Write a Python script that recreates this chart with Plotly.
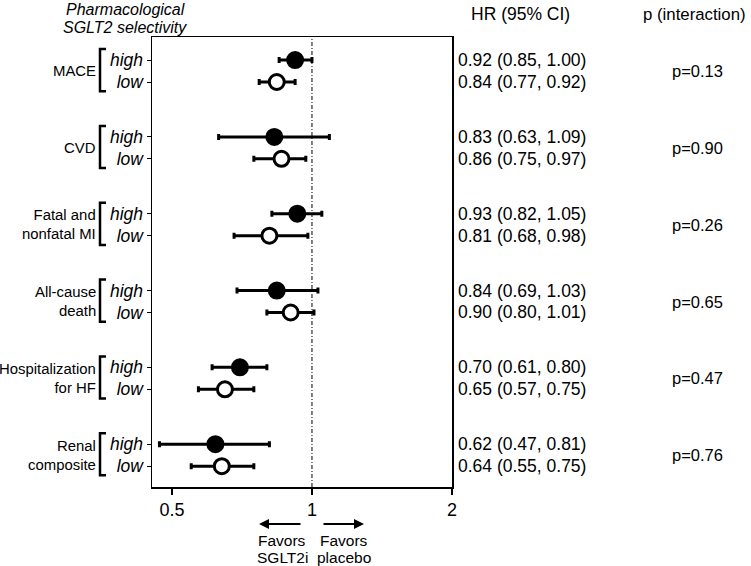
import plotly.graph_objects as go
import math

outcomes = ["MACE", "CVD", "Fatal and<br>nonfatal MI", "All-cause<br>death", "Hospitalization<br>for HF", "Renal<br>composite"]
hr_high = [0.92, 0.83, 0.93, 0.84, 0.70, 0.62]
lo_high = [0.85, 0.63, 0.82, 0.69, 0.61, 0.47]
hi_high = [1.00, 1.09, 1.05, 1.03, 0.80, 0.81]
hr_low = [0.84, 0.86, 0.81, 0.90, 0.65, 0.64]
lo_low = [0.77, 0.75, 0.68, 0.80, 0.57, 0.55]
hi_low = [0.92, 0.97, 0.98, 1.01, 0.75, 0.75]
p_interaction = ["p=0.13", "p=0.90", "p=0.26", "p=0.65", "p=0.47", "p=0.76"]
x_ticks = [0.5, 1, 2]

FONT = "Liberation Sans, Arial, sans-serif"
FS = 15.5
FL = 14.9
FR = 17.5
FP = 16.5

PL, PT, PW, PH = 152, 37, 300, 450  # plot area in page pixel coords

n = len(outcomes)
y_high = [3.5 * i for i in range(n)]
y_low = [3.5 * i + 1 for i in range(n)]

fig = go.Figure()

fig.add_shape(type="line", x0=1, x1=1, y0=0, y1=1, xref="x", yref="paper",
              line=dict(color="black", width=1, dash="4px,2px,1px,2px"), layer="below")

fig.add_trace(go.Scatter(
    x=hr_high, y=y_high, mode="markers",
    marker=dict(symbol="circle", size=16, color="black", line=dict(color="black", width=2)),
    error_x=dict(type="data", symmetric=False,
                 array=[h - m for h, m in zip(hi_high, hr_high)],
                 arrayminus=[m - l for m, l in zip(hr_high, lo_high)],
                 color="black", thickness=3, width=3),
    showlegend=False, hoverinfo="skip"))
fig.add_trace(go.Scatter(
    x=hr_low, y=y_low, mode="markers",
    marker=dict(symbol="circle", size=15, color="white", line=dict(color="black", width=3)),
    error_x=dict(type="data", symmetric=False,
                 array=[h - m for h, m in zip(hi_low, hr_low)],
                 arrayminus=[m - l for m, l in zip(hr_low, lo_low)],
                 color="black", thickness=3, width=3),
    showlegend=False, hoverinfo="skip"))


def py(px):
    return (PT + PH - px) / PH


def pxx(px):
    return (px - PL) / PW


annotations = []
ticktext = []
tickvals = []
for i in range(n):
    tickvals += [y_high[i], y_low[i]]
    ticktext += ["<i>high</i>", "<i>low</i>"]
    mid = (y_high[i] + y_low[i]) / 2
    annotations.append(dict(x=pxx(97.5), y=mid, xref="paper", yref="y", text=outcomes[i],
                            showarrow=False, xanchor="right", yanchor="middle", align="right",
                            font=dict(size=FL, family=FONT, color="black")))
    xb0 = pxx(100)
    xb1 = pxx(106)
    fig.add_shape(type="path", xref="paper", yref="y",
                  path=f"M {xb1},{y_high[i]-0.5} L {xb0},{y_high[i]-0.5} L {xb0},{y_low[i]+0.42} L {xb1},{y_low[i]+0.42}",
                  line=dict(color="black", width=2.5))
    txt_h = f"{hr_high[i]:.2f} ({lo_high[i]:.2f}, {hi_high[i]:.2f})"
    txt_l = f"{hr_low[i]:.2f} ({lo_low[i]:.2f}, {hi_low[i]:.2f})"
    annotations.append(dict(x=pxx(456), y=y_high[i], xref="paper", yref="y", text=txt_h,
                            showarrow=False, xanchor="left", yanchor="middle",
                            font=dict(size=FR, family=FONT, color="black")))
    annotations.append(dict(x=pxx(456), y=y_low[i], xref="paper", yref="y", text=txt_l,
                            showarrow=False, xanchor="left", yanchor="middle",
                            font=dict(size=FR, family=FONT, color="black")))
    annotations.append(dict(x=pxx(697), y=mid, xref="paper", yref="y", text=p_interaction[i],
                            showarrow=False, xanchor="center", yanchor="middle",
                            font=dict(size=FP, family=FONT, color="black")))

annotations += [
    dict(x=pxx(125), y=py(10), xref="paper", yref="paper", text="<i>Pharmacological</i>",
         showarrow=False, xanchor="center", yanchor="middle", font=dict(size=16, family=FONT, color="black")),
    dict(x=pxx(125), y=py(27), xref="paper", yref="paper", text="<i>SGLT2 selectivity</i>",
         showarrow=False, xanchor="center", yanchor="middle", font=dict(size=16, family=FONT, color="black")),
    dict(x=pxx(520), y=py(14), xref="paper", yref="paper", text="HR (95% CI)",
         showarrow=False, xanchor="center", yanchor="middle", font=dict(size=FR, family=FONT, color="black")),
    dict(x=pxx(694), y=py(14), xref="paper", yref="paper", text="p (interaction)",
         showarrow=False, xanchor="center", yanchor="middle", font=dict(size=16.8, family=FONT, color="black")),
    dict(x=pxx(282), y=py(540), xref="paper", yref="paper", text="Favors",
         showarrow=False, xanchor="center", yanchor="middle", font=dict(size=FS, family=FONT, color="black")),
    dict(x=pxx(282), y=py(557), xref="paper", yref="paper", text="SGLT2i",
         showarrow=False, xanchor="center", yanchor="middle", font=dict(size=FS, family=FONT, color="black")),
    dict(x=pxx(344), y=py(540), xref="paper", yref="paper", text="Favors",
         showarrow=False, xanchor="center", yanchor="middle", font=dict(size=FS, family=FONT, color="black")),
    dict(x=pxx(344), y=py(557), xref="paper", yref="paper", text="placebo",
         showarrow=False, xanchor="center", yanchor="middle", font=dict(size=FS, family=FONT, color="black")),
    dict(x=pxx(259), y=py(524), xref="paper", yref="paper", text="", showarrow=True,
         ax=43, ay=0, axref="pixel", ayref="pixel", arrowhead=2, arrowsize=1, arrowwidth=2, arrowcolor="black"),
    dict(x=pxx(364), y=py(524), xref="paper", yref="paper", text="", showarrow=True,
         ax=-42, ay=0, axref="pixel", ayref="pixel", arrowhead=2, arrowsize=1, arrowwidth=2, arrowcolor="black"),
]

fig.update_layout(
    width=751, height=566,
    margin=dict(l=PL, r=751 - PL - PW, t=PT, b=566 - PT - PH, pad=0),
    paper_bgcolor="white", plot_bgcolor="white",
    font=dict(family=FONT, size=FS, color="black"),
    annotations=annotations,
    hovermode=False,
    xaxis=dict(type="log", range=[math.log10(0.453), math.log10(2)],
               tickvals=x_ticks, ticktext=[str(t) for t in x_ticks],
               showgrid=False, zeroline=False, showline=True, linecolor="black", linewidth=1.5,
               mirror=True, ticks="outside", ticklen=6, tickwidth=1.5, tickcolor="black",
               tickfont=dict(size=18, family=FONT, color="black")),
    yaxis=dict(range=[19.45, -1.05], tickvals=tickvals, ticktext=ticktext,
               showgrid=False, zeroline=False, showline=True, linecolor="black", linewidth=1.5,
               mirror=True, ticks="outside", ticklen=4, tickwidth=1, tickcolor="black",
               tickfont=dict(size=17.5, family=FONT, color="black")),
)

fig.write_html("out.html", config={"displayModeBar": False, "staticPlot": True},
               post_script="document.body.style.margin='0px';document.body.style.overflow='hidden';")
